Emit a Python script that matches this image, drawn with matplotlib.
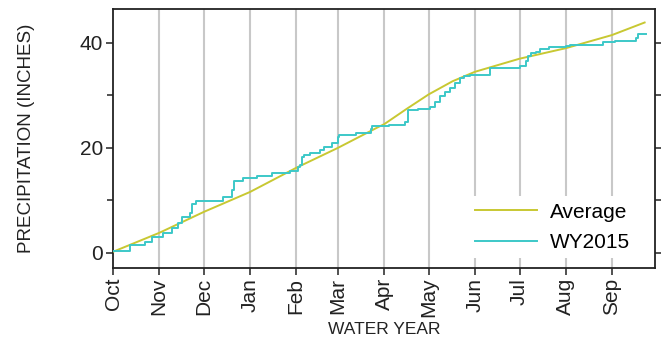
import matplotlib
matplotlib.use("Agg")
import matplotlib.pyplot as plt
from matplotlib.ticker import MultipleLocator

plt.rcParams["font.family"] = ["Liberation Sans", "DejaVu Sans"]

# Month starts as day of water year (Oct 1 = 0)
month_days = [0, 31, 61, 92, 123, 151, 182, 212, 243, 273, 304, 335]
month_labels = ["Oct", "Nov", "Dec", "Jan", "Feb", "Mar",
                "Apr", "May", "Jun", "Jul", "Aug", "Sep"]

# Long-term average cumulative precipitation (inches)
avg_days = [0, 31, 61, 92, 123, 151, 179, 182, 197, 212, 228, 243, 273,
            304, 335, 357]
avg_precip = [0.2, 3.8, 7.8, 11.6, 16.2, 20.0, 24.1, 24.5, 27.4, 30.2,
              32.7, 34.5, 37.0, 39.0, 41.5, 43.9]

# WY2015 cumulative precipitation, value after each step (inches)
wy_days = [0, 11.4, 21.5, 26, 33.6, 39.4, 43.8, 46, 51.7, 52.8, 56, 74, 80,
           81.5, 87, 97, 107, 119, 124, 125.5, 126.6, 128.5, 132, 139, 142,
           146.8, 151, 152, 163.5, 173, 174, 185, 196, 198, 205, 213, 216,
           219.5, 223, 226, 229.5, 233, 236, 240, 253, 273, 277.6, 279, 281,
           284, 286.6, 293, 304, 307, 329, 337, 351.5, 352.5, 357.7]
wy_precip = [0.3, 1.5, 2.0, 3.0, 3.8, 4.8, 5.7, 6.9, 7.6, 9.3, 9.8, 10.7, 12.0,
             13.6, 14.3, 14.7, 15.2, 15.6, 16.3, 16.8, 18.3, 18.7, 19.0, 19.6,
             20.2, 20.9, 22.0, 22.5, 22.8, 23.6, 24.1, 24.4, 25.0, 27.2, 27.5,
             27.8, 28.8, 29.8, 30.7, 31.4, 32.3, 33.3, 33.7, 33.9, 35.3, 35.6,
             36.5, 37.5, 38.0, 38.3, 38.8, 39.3, 39.4, 39.7, 40.1, 40.4, 41.0,
             41.8, 41.8]

fig = plt.figure(figsize=(6.61, 3.41), dpi=100)
ax = fig.add_axes([0.171, 0.214, 0.820, 0.760])

for d in month_days[1:]:
    ax.axvline(d, color="#c8c8c8", lw=1.5, zorder=1)

ax.plot(avg_days, avg_precip, color="#c8c832", lw=1.4, zorder=3,
        label="Average")
ax.plot(wy_days, wy_precip, color="#3cc8c8", lw=1.4, zorder=4,
        drawstyle="steps-post", label="WY2015")

ax.set_xlim(0, 364)
ax.set_ylim(-2.9, 46.5)
ax.set_xticks(month_days)
ax.set_xticklabels(month_labels, rotation=90)
ax.yaxis.set_major_locator(MultipleLocator(20))
ax.yaxis.set_minor_locator(MultipleLocator(10))

ax.tick_params(axis="both", which="both", direction="out", colors="#222222",
               labelsize=15, width=1.1, pad=2)
ax.tick_params(axis="y", which="major", length=5, right=True)
ax.tick_params(axis="y", which="minor", length=4, right=True)
ax.tick_params(axis="x", length=5)

for s in ax.spines.values():
    s.set_color("#222222")
    s.set_linewidth(1.3)

ax.set_ylabel("PRECIPITATION (INCHES)", fontsize=13.5, color="#222222",
              labelpad=32)
ax.set_xlabel("WATER YEAR", fontsize=12.5, color="#222222", labelpad=3)

leg = ax.legend(loc="lower right", bbox_to_anchor=(0.965, 0.037), fontsize=15,
                frameon=True, fancybox=False, framealpha=1.0,
                edgecolor="none", facecolor="white", handlelength=3.0,
                handletextpad=0.6, labelspacing=0.55, borderpad=0.3,
                borderaxespad=0.0)
leg.set_zorder(5)

fig.savefig("out.png", dpi=100)
